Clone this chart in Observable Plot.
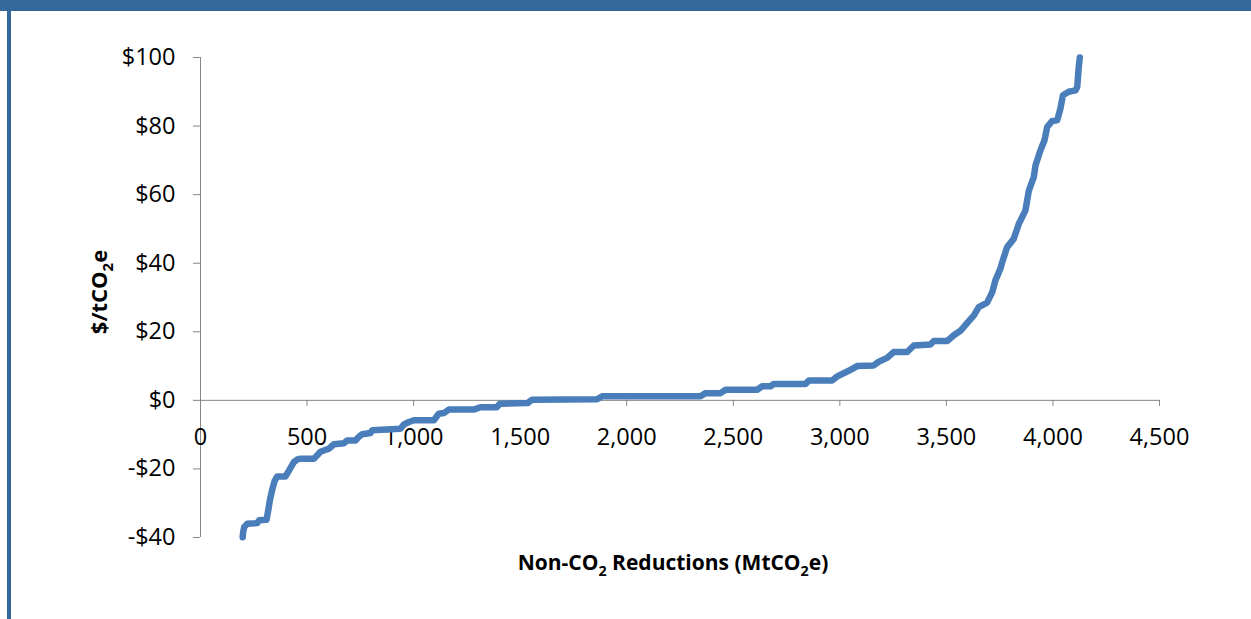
<!DOCTYPE html>
<html>
<head>
<meta charset="utf-8">
<script src="https://cdn.jsdelivr.net/npm/d3@7"></script>
<script src="https://cdn.jsdelivr.net/npm/@observablehq/plot@0.6"></script>
<style>
  html, body { margin: 0; padding: 0; background: #fff; }
  #wrap { position: relative; width: 1251px; height: 619px; overflow: hidden; }
  #topband { position: absolute; left: 0; top: 0; width: 1251px; height: 11px; background: #34679A; z-index: 2; }
  #leftbar { position: absolute; left: 7px; top: 11px; width: 4px; height: 608px; background: #34679A; z-index: 2; }
  #chart { position: absolute; left: 0; top: 0; }
</style>
</head>
<body>
<div id="wrap">
  <div id="topband"></div>
  <div id="leftbar"></div>
  <div id="chart"></div>
</div>
<script>
// Cumulative non-CO2 reductions (MtCO2e) and marginal cost ($/tCO2e)
const reductions = [198, 200, 205, 219, 266, 275, 310, 318, 326, 336, 348, 360, 399, 415, 438, 455, 469, 532, 548, 563, 585, 602, 626, 673, 688, 727, 745, 759, 798, 806, 938, 955, 978, 1001, 1095, 1118, 1142, 1165, 1282, 1314, 1390, 1405, 1535, 1556, 1861, 1885, 2346, 2370, 2440, 2464, 2612, 2636, 2675, 2690, 2839, 2855, 2964, 2988, 3018, 3050, 3081, 3159, 3183, 3222, 3253, 3316, 3347, 3425, 3441, 3504, 3535, 3566, 3598, 3629, 3652, 3691, 3715, 3730, 3754, 3762, 3785, 3816, 3840, 3871, 3887, 3910, 3918, 3941, 3960, 3973, 3996, 4020, 4035, 4047, 4074, 4106, 4114, 4121, 4126];
const costs = [-39.9, -38.5, -37, -36, -35.8, -35, -34.8, -32, -29, -26.2, -23.5, -22.2, -22.2, -20.5, -18, -17.2, -17, -17, -16, -15, -14.5, -14.1, -12.8, -12.5, -11.7, -11.7, -10.5, -9.9, -9.5, -8.7, -8.3, -7, -6.3, -5.8, -5.8, -3.9, -3.7, -2.7, -2.7, -2.0, -2.0, -1.0, -0.8, 0.2, 0.3, 1.2, 1.2, 2.1, 2.1, 3.1, 3.1, 4.1, 4.1, 4.8, 4.8, 5.8, 5.8, 7.0, 7.9, 8.9, 10.0, 10.2, 11.3, 12.4, 14.1, 14.1, 16.0, 16.3, 17.3, 17.3, 19.0, 20.3, 22.6, 24.8, 27.2, 28.5, 31.5, 35, 38.5, 40.3, 44.7, 47.1, 51.5, 55.4, 61.2, 65.1, 68.5, 72.9, 75.8, 79.7, 81.5, 81.7, 85.1, 89, 90, 90.4, 91.4, 97.2, 100];
const xTicks = [0, 500, 1000, 1500, 2000, 2500, 3000, 3500, 4000, 4500];
const yTicks = [-40, -20, 0, 20, 40, 60, 80, 100];
const xTitle = ["Non-CO", "2", " Reductions (MtCO", "2", "e)"];
const yTitle = ["$/tCO", "2", "e"];

const data = reductions.map((r, i) => ({x: r, y: costs[i]}));
const fmtX = d3.format(",");
const fmtY = d => d < 0 ? "-$" + (-d) : "$" + d;
const axisColor = "#868686";

const chart = Plot.plot({
  width: 1251,
  height: 619,
  marginLeft: 200,
  marginRight: 92,
  marginTop: 57,
  marginBottom: 82,
  style: {fontFamily: "'Open Sans', sans-serif", background: "transparent", color: "#000", overflow: "visible"},
  x: {domain: [0, 4500], axis: null},
  y: {domain: [-40, 100], axis: null},
  marks: [
    Plot.ruleX([0], {stroke: axisColor, strokeWidth: 1}),
    Plot.ruleY([0], {stroke: axisColor, strokeWidth: 1}),
    Plot.ruleY(yTicks, {y: d => d, x1: 0, x2: 0, insetLeft: -7, stroke: axisColor, strokeWidth: 1}),
    Plot.ruleX(xTicks, {x: d => d, y1: 0, y2: 0, insetBottom: -6, stroke: axisColor, strokeWidth: 1}),
    Plot.text(yTicks, {x: 0, y: d => d, text: fmtY, textAnchor: "end", dx: -25, fontSize: 23.5, fill: "#000"}),
    Plot.text(xTicks, {x: d => d, y: 0, text: fmtX, dy: 37, fontSize: 23.5, fill: "#000"}),
    Plot.line(data, {x: "x", y: "y", stroke: "#4A7EBB", strokeWidth: 6.5, strokeLinejoin: "round", strokeLinecap: "round"})
  ]
});

const svg = d3.select(chart);
function addTitle(parts, attrs) {
  const t = svg.append("text")
    .attr("font-family", "'Open Sans', sans-serif")
    .attr("font-weight", "bold")
    .attr("font-size", attrs.size)
    .attr("fill", "#000")
    .attr("text-anchor", "middle")
    .attr("transform", attrs.transform);
  parts.forEach((p, i) => {
    const isSub = (i % 2 === 1);
    const ts = t.append("tspan").text(p);
    if (isSub) ts.attr("font-size", attrs.size * 0.68).attr("dy", attrs.size * 0.28);
    else if (i > 0) ts.attr("dy", -attrs.size * 0.28);
  });
}
addTitle(xTitle, {size: 21, transform: "translate(673,570)"});
addTitle(yTitle, {size: 22, transform: "translate(107,292) rotate(-90)"});

document.getElementById("chart").appendChild(chart);
</script>
</body>
</html>
